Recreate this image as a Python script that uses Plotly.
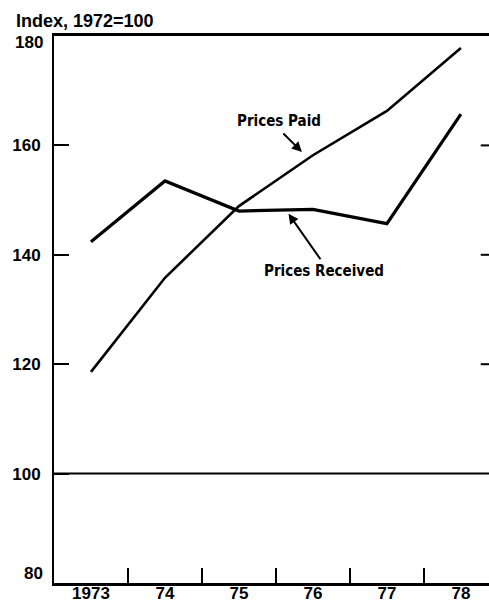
import plotly.graph_objects as go

# ---- data ----
years = ["1973", "74", "75", "76", "77", "78"]
prices_paid = [118.6, 135.8, 148.9, 158.2, 166.3, 177.8]
prices_received = [142.4, 153.5, 148.0, 148.3, 145.7, 165.7]
y_ticks = [100, 120, 140, 160]
y_tick_labels = ["100", "120", "140", "160"]
y_min, y_max = 80, 180
right_ticks = [120, 140, 160]
base_index = 100
y_title = "Index, 1972=100"

FONT = "Liberation Sans, Arial, Helvetica, sans-serif"
NARROW = "DejaVu Sans Condensed, Liberation Sans Narrow, Arial Narrow, sans-serif"

fig = go.Figure()
fig.add_trace(go.Scatter(x=years, y=prices_paid, mode="lines", name="Prices Paid",
                         line=dict(color="black", width=2.6), showlegend=False))
fig.add_trace(go.Scatter(x=years, y=prices_received, mode="lines", name="Prices Received",
                         line=dict(color="black", width=3.2), showlegend=False))

# baseline at index = 100
fig.add_shape(type="line", xref="paper", x0=0, x1=1, yref="y", y0=base_index, y1=base_index,
              line=dict(color="black", width=2))
# short tick marks along the right-hand edge
for v in right_ticks:
    fig.add_shape(type="line", xref="paper", x0=0.981, x1=1, yref="y", y0=v, y1=v,
                  line=dict(color="black", width=2))

tick_font = dict(family=FONT, size=17, color="black", weight="bold")
# end labels of the value axis sit just inside the frame
fig.add_annotation(xref="paper", yref="y", x=0, y=y_max, yshift=-6, xshift=-9,
                   xanchor="right", yanchor="middle", text=str(y_max), showarrow=False,
                   font=tick_font)
fig.add_annotation(xref="paper", yref="y", x=0, y=y_min, yshift=10, xshift=-9,
                   xanchor="right", yanchor="middle", text=str(y_min), showarrow=False,
                   font=tick_font)

# labels and arrows
lab_font = dict(family=NARROW, size=15, color="black", weight="bold")
fig.add_annotation(x=2.545, y=164.4, text="Prices Paid", showarrow=False, font=lab_font)
fig.add_annotation(x=2.851, y=158.8, ax=-20, ay=-20, text="", showarrow=True,
                   arrowhead=2, arrowsize=1, arrowwidth=2, arrowcolor="black", standoff=0)
fig.add_annotation(x=3.149, y=137.1, text="Prices Received", showarrow=False, font=lab_font)
fig.add_annotation(x=2.670, y=147.5, ax=33, ay=47, text="", showarrow=True,
                   arrowhead=2, arrowsize=1, arrowwidth=2, arrowcolor="black", standoff=0)

# axis title at top-left
fig.add_annotation(xref="paper", yref="paper", x=-0.092, y=1.028, xanchor="left",
                   yanchor="middle", text=y_title, showarrow=False,
                   font=dict(family=FONT, size=18, color="black", weight="bold"))

fig.update_layout(
    width=489, height=602,
    margin=dict(l=54, r=0, t=36, b=19, autoexpand=False),
    paper_bgcolor="white", plot_bgcolor="white",
    font=dict(family=FONT, size=17, color="black"),
    xaxis=dict(type="category", range=[-0.5, 5.38], tickson="boundaries",
               ticks="inside", ticklen=15, tickwidth=2, tickcolor="black",
               showline=True, linecolor="black", linewidth=2.5, mirror=True,
               showgrid=False, zeroline=False, automargin=False,
               ticklabelstandoff=-7, tickfont=tick_font),
    yaxis=dict(range=[y_min, y_max], tickvals=y_ticks, ticktext=y_tick_labels,
               ticks="inside", ticklen=15, tickwidth=2, tickcolor="black",
               showline=True, linecolor="black", linewidth=2, mirror=False,
               showgrid=False, zeroline=False, automargin=False,
               ticklabelstandoff=8, tickfont=tick_font),
)

fig.write_html("out.html", config={"displayModeBar": False},
               post_script="document.body.style.margin='0';document.body.style.overflow='hidden';")
